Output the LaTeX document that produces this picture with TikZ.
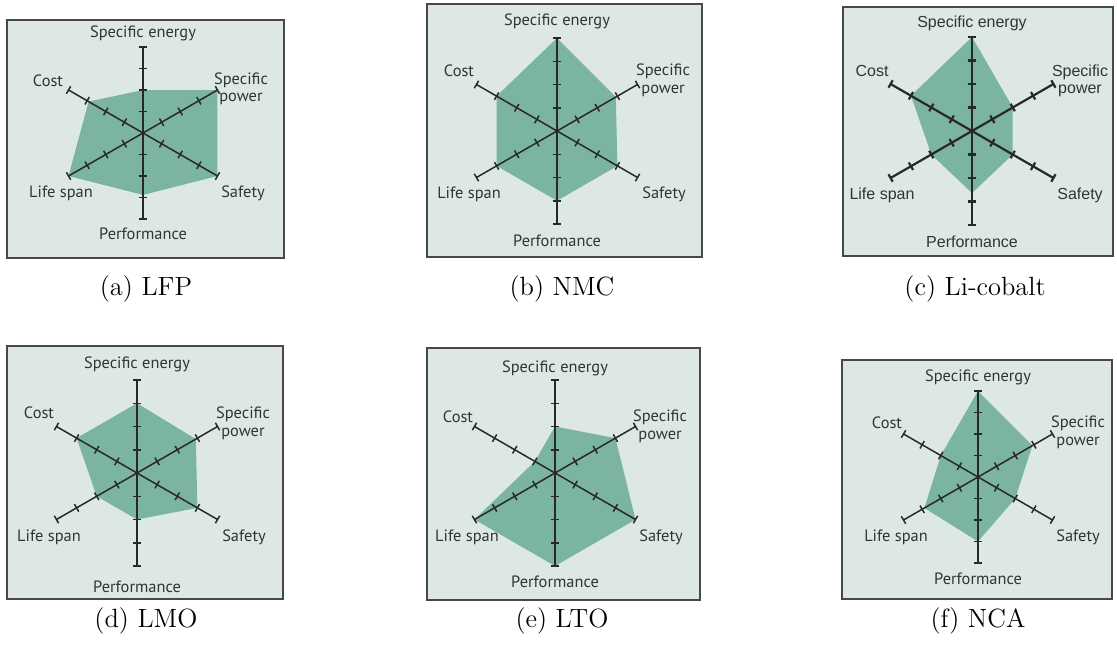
\documentclass[tikz,border=0pt]{standalone}
\usepackage{fontspec}
\usepackage{xcolor}
\newfontfamily\chartfont{PT Sans}
\newfontfamily\arialfont{Liberation Sans}

\definecolor{panelbg}{RGB}{221,232,228}
\definecolor{areafill}{RGB}{124,180,162}
\definecolor{axisgray}{RGB}{40,40,40}

\tikzset{
  panel/.style={draw=axisgray!85, fill=panelbg, line width=0.6pt},
  axis/.style={axisgray, line width=0.75pt},
  lbl/.style={font=\chartfont\fontsize{8.2}{8.8}\selectfont, text=black!80, align=center, inner sep=0pt},
  subcap/.style={font=\fontsize{13.2}{15}\selectfont, inner sep=0pt}
}

% #1,#2 centre, #3 radius, then energy, power, safety, performance, life span, cost
\newcommand{\radar}[9]{%
  \begin{scope}[shift={(#1,#2)}, yscale=-1]
    \fill[areafill] (90:{#4*#3}) -- (30:{#5*#3}) -- (-30:{#6*#3})
      -- (-90:{#7*#3}) -- (210:{#8*#3}) -- (150:{#9*#3}) -- cycle;
    \foreach \a in {90,30,-30} {
      \draw[axis, rotate=\a] (-#3,0) -- (#3,0);
      \foreach \k in {-1,-0.75,-0.5,-0.25,0.25,0.5,0.75,1}
        \draw[axis, rotate=\a] (\k*#3,-4.3) -- (\k*#3,4.3);
    }
  \end{scope}
}

\begin{document}
\begin{tikzpicture}[x=0.5pt,y=-0.5pt]
  \useasboundingbox (0,0) rectangle (1117,648);

  % (a) LFP
  \draw[panel] (7,20) rectangle (284,258);
  \radar{143}{133}{86}{0.5}{1}{1}{0.72}{1}{0.73}
  \node[lbl] (a-energy) at (143,33) {Specific energy};
  \node[lbl] (a-cost) at (48,81) {Cost};
  \node[lbl] (a-power) at (241,89) {Specific\\power};
  \node[lbl] (a-life) at (61,193) {Life span};
  \node[lbl] (a-safety) at (243,193) {Safety};
  \node[lbl] (a-perf) at (143,234) {Performance};
  \node[subcap] (a-cap) at (146,289) {(a) LFP};

  % (b) NMC
  \draw[panel] (427,4) rectangle (702,257);
  \radar{557}{131}{93}{1}{0.73}{0.75}{0.75}{0.75}{0.75}
  \node[lbl] (b-energy) at (557,21) {Specific energy};
  \node[lbl] (b-cost) at (459,71) {Cost};
  \node[lbl] (b-power) at (663,80) {Specific\\power};
  \node[lbl] (b-life) at (469,194) {Life span};
  \node[lbl] (b-safety) at (664,194) {Safety};
  \node[lbl] (b-perf) at (557,241) {Performance};
  \node[subcap] (b-cap) at (562,289) {(b) NMC};

  % (c) Li-cobalt
  \draw[panel] (843,7) rectangle (1113,256);
  \begin{scope}[axis/.append style={line width=1.1pt}]
    \radar{972}{131}{94}{1}{0.5}{0.5}{0.66}{0.5}{0.75}
  \end{scope}
  \begin{scope}[lbl/.append style={font=\arialfont\fontsize{8}{8.8}\selectfont}]
    \node[lbl] (c-energy) at (972,23) {Specific energy};
    \node[lbl] (c-cost) at (872,71) {Cost};
    \node[lbl] (c-power) at (1080,81) {Specific\\power};
    \node[lbl] (c-life) at (882,195) {Life span};
    \node[lbl] (c-safety) at (1080,195) {Safety};
    \node[lbl] (c-perf) at (972,242) {Performance};
  \end{scope}
  \node[subcap] (c-cap) at (975,289) {(c) Li-cobalt};

  % (d) LMO
  \draw[panel] (7,346) rectangle (283,599);
  \radar{137}{473}{93}{0.75}{0.73}{0.75}{0.5}{0.5}{0.75}
  \node[lbl] (d-energy) at (137,364) {Specific energy};
  \node[lbl] (d-cost) at (39,413) {Cost};
  \node[lbl] (d-power) at (243,423) {Specific\\power};
  \node[lbl] (d-life) at (49,537) {Life span};
  \node[lbl] (d-safety) at (244,537) {Safety};
  \node[lbl] (d-perf) at (137,587) {Performance};
  \node[subcap] (d-cap) at (146,621) {(d) LMO};

  % (e) LTO
  \draw[panel] (427,348) rectangle (700,600);
  \radar{555}{473}{93}{0.5}{0.75}{1}{1}{1}{0.25}
  \node[lbl] (e-energy) at (555,368) {Specific energy};
  \node[lbl] (e-cost) at (458,417) {Cost};
  \node[lbl] (e-power) at (660,426) {Specific\\power};
  \node[lbl] (e-life) at (467,537) {Life span};
  \node[lbl] (e-safety) at (661,537) {Safety};
  \node[lbl] (e-perf) at (555,582) {Performance};
  \node[subcap] (e-cap) at (562,621) {(e) LTO};

  % (f) NCA
  \draw[panel] (842,360) rectangle (1112,599);
  \radar{978}{477}{86}{1}{0.73}{0.5}{0.75}{0.72}{0.5}
  \node[lbl] (f-energy) at (978,377) {Specific energy};
  \node[lbl] (f-cost) at (887,423) {Cost};
  \node[lbl] (f-power) at (1078,432) {Specific\\power};
  \node[lbl] (f-life) at (896,537) {Life span};
  \node[lbl] (f-safety) at (1078,537) {Safety};
  \node[lbl] (f-perf) at (978,579) {Performance};
  \node[subcap] (f-cap) at (978,621) {(f) NCA};
\end{tikzpicture}
\end{document}
